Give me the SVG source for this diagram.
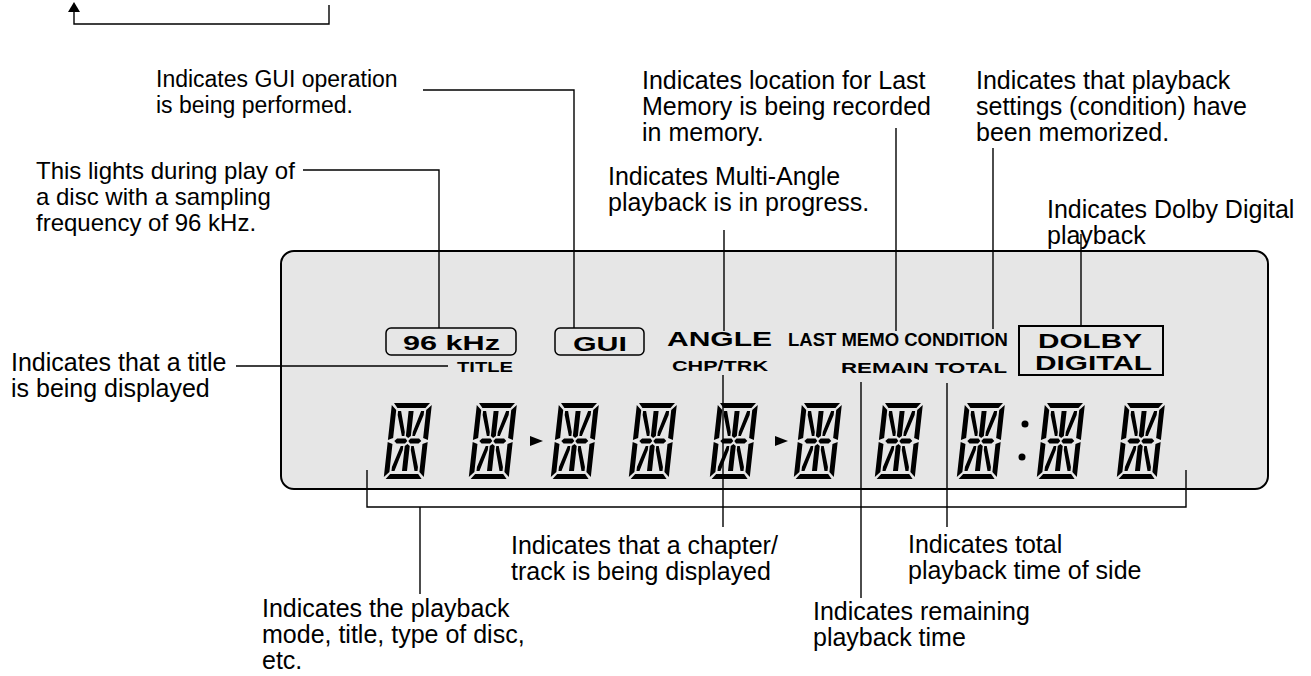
<svg xmlns="http://www.w3.org/2000/svg" xmlns:xlink="http://www.w3.org/1999/xlink" width="1311" height="676" viewBox="0 0 1311 676">
<style>
.lbl{font-family:"Liberation Sans",Arial,sans-serif;font-size:25px;fill:#000}
.s23{font-size:23px}
.s24{font-size:24px}
.ind{font-family:"Liberation Sans",Arial,sans-serif;font-weight:bold;fill:#000}
.ln{fill:none;stroke:#000;stroke-width:1.4}
.box{fill:none;stroke:#000;stroke-width:1.5}
.seg{fill:#000}
</style>
<defs>
<g id="dg" transform="skewX(-6.3)">
<path class="seg" d="M2,0H38L34,5H6Z M2,76H38L34,71H6Z M0,2L5,7V35L0,37Z M0,39L5,41V69L0,74Z M40,2L35,7V35L40,37Z M40,39L35,41V69L40,74Z M6.5,38L9,35.5H17.5L19.5,38L17.5,40.5H9Z M20.5,38L22.5,35.5H31L33.5,38L31,40.5H22.5Z M17.5,8H22.5V33L20,35L17.5,33Z M17.5,43L20,41L22.5,43V68H17.5Z M7,8H10L16,29V33H13.5L7,12Z M33,8H30L24,29V33H26.5L33,12Z M7,68H10L16,47V43H13.5L7,64Z M33,68H30L24,47V43H26.5L33,64Z"/>
</g>
</defs>
<rect width="1311" height="676" fill="#fff"/>

<g id="display">
<rect x="281" y="251" width="987" height="238" rx="13" fill="#e6e6e6" stroke="#000" stroke-width="2"/>
</g>

<g id="digits">
<use xlink:href="#dg" transform="translate(392,403)"/>
<use xlink:href="#dg" transform="translate(477,403)"/>
<use xlink:href="#dg" transform="translate(559,403)"/>
<use xlink:href="#dg" transform="translate(637,403)"/>
<use xlink:href="#dg" transform="translate(718,403)"/>
<use xlink:href="#dg" transform="translate(802,403)"/>
<use xlink:href="#dg" transform="translate(883,403)"/>
<use xlink:href="#dg" transform="translate(965,403)"/>
<use xlink:href="#dg" transform="translate(1045,403)"/>
<use xlink:href="#dg" transform="translate(1125,403)"/>
<polygon points="530,436 543,441 530,446" fill="#000"/>
<polygon points="775,436 788,441 775,446" fill="#000"/>
<circle cx="1025" cy="424" r="3.5" fill="#000"/>
<circle cx="1022" cy="457" r="3.5" fill="#000"/>
</g>

<g id="ind-96khz">
<rect class="box" x="386" y="328" width="130" height="27" rx="5"/>
<text class="ind" x="403" y="350" font-size="20" textLength="97" lengthAdjust="spacingAndGlyphs">96 kHz</text>
</g>
<g id="ind-title"><text class="ind" x="457" y="372" font-size="14" textLength="56" lengthAdjust="spacingAndGlyphs">TITLE</text></g>
<g id="ind-gui">
<rect class="box" x="555" y="328" width="89" height="27" rx="5"/>
<text class="ind" x="573" y="351" font-size="20" textLength="54" lengthAdjust="spacingAndGlyphs">GUI</text>
</g>
<g id="ind-angle"><text class="ind" x="667" y="346" font-size="20" textLength="105" lengthAdjust="spacingAndGlyphs">ANGLE</text></g>
<g id="ind-chptrk"><text class="ind" x="672" y="371" font-size="14" textLength="96" lengthAdjust="spacingAndGlyphs">CHP/TRK</text></g>
<g id="ind-lastmemo"><text class="ind" x="788" y="346" font-size="18" textLength="220" lengthAdjust="spacingAndGlyphs">LAST MEMO CONDITION</text></g>
<g id="ind-remain"><text class="ind" x="841" y="373" font-size="15" textLength="166" lengthAdjust="spacingAndGlyphs">REMAIN TOTAL</text></g>
<g id="ind-dolby">
<rect x="1019" y="326" width="144" height="49" fill="none" stroke="#000" stroke-width="2"/>
<text class="ind" x="1038" y="348" font-size="20" textLength="104" lengthAdjust="spacingAndGlyphs">DOLBY</text>
<text class="ind" x="1035" y="370" font-size="20" textLength="117" lengthAdjust="spacingAndGlyphs">DIGITAL</text>
</g>

<g id="connectors">
<path class="ln" d="M329,5V24H74V11"/>
<polygon points="74,2 68,12 80,12" fill="#000"/>
<path class="ln" d="M423,90H574V328"/>
<path class="ln" d="M303,170H439V328"/>
<path class="ln" d="M724,230V331"/>
<path class="ln" d="M896,128V331"/>
<path class="ln" d="M993,148V329"/>
<path class="ln" d="M1081,234V326"/>
<path class="ln" d="M236,366H448"/>
<path class="ln" d="M723,375V527"/>
<path class="ln" d="M861,382V598"/>
<path class="ln" d="M947,383V527"/>
<path class="ln" d="M367,470V507H1186V470"/>
<path class="ln" d="M420,507V594"/>
</g>

<g id="lbl-gui"><text class="lbl s23" x="156" y="87">Indicates GUI operation</text><text class="lbl s23" x="156" y="113">is being performed.</text></g>
<g id="lbl-96"><text class="lbl s24" x="36" y="179">This lights during play of</text><text class="lbl s24" x="36" y="205">a disc with a sampling</text><text class="lbl s24" x="36" y="231">frequency of 96 kHz.</text></g>
<g id="lbl-angle"><text class="lbl" x="608" y="185">Indicates Multi-Angle</text><text class="lbl" x="608" y="211">playback is in progress.</text></g>
<g id="lbl-lastmemo"><text class="lbl" x="642" y="89">Indicates location for Last</text><text class="lbl" x="642" y="115">Memory is being recorded</text><text class="lbl" x="642" y="141">in memory.</text></g>
<g id="lbl-condition"><text class="lbl" x="976" y="89">Indicates that playback</text><text class="lbl" x="976" y="115">settings (condition) have</text><text class="lbl" x="976" y="141">been memorized.</text></g>
<g id="lbl-dolby"><text class="lbl" x="1047" y="218">Indicates Dolby Digital</text><text class="lbl" x="1047" y="244">playback</text></g>
<g id="lbl-title"><text class="lbl" x="11" y="371">Indicates that a title</text><text class="lbl" x="11" y="397">is being displayed</text></g>
<g id="lbl-chapter"><text class="lbl" x="511" y="554">Indicates that a chapter/</text><text class="lbl" x="511" y="580">track is being displayed</text></g>
<g id="lbl-total"><text class="lbl" x="908" y="553">Indicates total</text><text class="lbl" x="908" y="579">playback time of side</text></g>
<g id="lbl-remain"><text class="lbl" x="813" y="620">Indicates remaining</text><text class="lbl" x="813" y="646">playback time</text></g>
<g id="lbl-mode"><text class="lbl" x="262" y="617">Indicates the playback</text><text class="lbl" x="262" y="643">mode, title, type of disc,</text><text class="lbl" x="262" y="669">etc.</text></g>
</svg>
